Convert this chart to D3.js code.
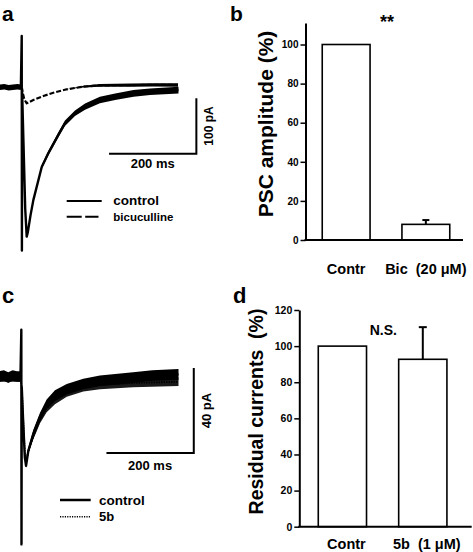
<!DOCTYPE html>
<html><head><meta charset="utf-8">
<script src="https://cdn.jsdelivr.net/npm/d3@7/dist/d3.min.js"></script>
<style>
html,body{margin:0;padding:0;background:#fff;}
svg text{font-family:"Liberation Sans",Arial,Helvetica,sans-serif;font-weight:bold;fill:#000;}
</style></head>
<body>
<script>
// ---------- DATA ----------
// Panel a: traces [time ms, current pA, noise half-width pA]
const aControl = [[-50,0,5],[-40,1,5],[-30,-1,5],[-20,0,5],[-10,1,5],[-2,0,5],[0,93,0],[0.4,-295,0],[1,-10,0.5],[4,-100,1],[8,-220,1],[11.4,-270,1],[14,-262,1],[20,-232,1.5],[26.6,-204,2.5],[45.8,-144,3.5],[61,-119,4],[86,-83,4.5],[99,-65,5],[122,-47,5],[145,-35,5.5],[179,-23,6],[214,-17,6],[256,-11,6],[294,-8,6],[359,-5,6]];
const aBicuculline = [[-50,0,0],[-2,0,0],[1,-3,0],[3,-12,0],[6,-22,0],[11.5,-29,0],[26.6,-23,0],[49.5,-15.7,0],[72.4,-9.8,0],[103,-3.6,0],[141,1.1,1.5],[179,3.5,2.5],[250,4,3],[300,4.5,3],[358,4.2,3]];
const aScaleMs = [200, 400];
const aScalePA = [-120, -20];
const aLegend = ["control", "bicuculline"];

// Panel c
const cControl = [[-50,0,2.5],[-40,0.5,2.5],[-30,-0.5,2.5],[-20,0.5,2.5],[-10,0,2.5],[-2,0,2.5],[0,22,0],[0.4,-79,0],[1,-5,0.5],[4,-20,0.8],[8,-38,1],[10.8,-42,1],[16,-35,1.5],[27.5,-27,2],[42.8,-19,2],[58,-13,2.2],[77,-9,2.5],[104,-6,2.5],[142,-3.5,2.5],[180,-2,2.5],[256,-0.5,2.5],[300,0.5,2.5],[360,1,2.5]];
const c5b = [[-50,-1,1.5],[-2,-1,1.5],[1,-5,0.5],[4,-20,0.5],[8,-36,0.8],[11,-40,1],[16,-35,1],[27.5,-28,1.5],[42.8,-20.5,1.5],[58,-15,1.8],[77,-11,2],[104,-7.5,2],[142,-5,2],[180,-4,2],[256,-3,2],[360,-2.5,2]];
const cScaleMs = [195, 395];
const cScalePA = [-36, 4];
const cLegend = ["control", "5b"];

// Panel b
const bCategories = ["Contr", "Bic  (20 \u03bcM)"];
const bValues = [100, 8];
const bErrors = [null, 10.2];
const bTicks = [0, 20, 40, 60, 80, 100];

// Panel d
const dCategories = ["Contr", "5b  (1 \u03bcM)"];
const dValues = [100, 92.7];
const dErrors = [null, 110.5];
const dTicks = [0, 20, 40, 60, 80, 100, 120];

// ---------- DRAW ----------
const svg = d3.select("body").append("svg").attr("width", 473).attr("height", 552);
svg.append("rect").attr("width", 473).attr("height", 552).attr("fill", "#fff");

function trace(g, data, x, y, o) {
  g.append("path").datum(data)
    .attr("d", d3.area().x(d => x(d[0])).y0(d => y(d[1] - d[2])).y1(d => y(d[1] + d[2])))
    .attr("fill", o.bandFill || "#000").attr("fill-opacity", o.bandOpacity || 1);
  g.append("path").datum(data)
    .attr("d", d3.line().x(d => x(d[0])).y(d => y(d[1])))
    .attr("fill", "none").attr("stroke", "#000").attr("stroke-width", o.w)
    .attr("stroke-dasharray", o.dash || null).attr("stroke-linejoin", "round");
}

function scaleBar(g, x, y, ms, pa, msLabel, paLabel, paFont, msLabelY) {
  g.append("path")
    .attr("d", `M${x(ms[0])},${y(pa[0])}H${x(ms[1])}V${y(pa[1])}`)
    .attr("fill", "none").attr("stroke", "#000").attr("stroke-width", 2);
  g.append("text").attr("x", (x(ms[0]) + x(ms[1])) / 2).attr("y", msLabelY)
    .attr("text-anchor", "middle").attr("font-size", 13).text(msLabel);
  const cy = (y(pa[0]) + y(pa[1])) / 2;
  const tx = x(ms[1]) + 17;
  g.append("text").attr("transform", `translate(${tx},${cy}) rotate(-90)`)
    .attr("text-anchor", "middle").attr("font-size", paFont).text(paLabel);
}

// Panel a
{
  const g = svg.append("g");
  const x = d3.scaleLinear().domain([-50, 360]).range([-0.1, 178.9]);
  const y = d3.scaleLinear().domain([-300, 100]).range([253.2, 32]);
  trace(g, aControl, x, y, { w: 2.4 });
  trace(g, aBicuculline, x, y, { w: 2.2, dash: "5,2" });
  scaleBar(g, x, y, aScaleMs, aScalePA, "200 ms", "100 pA", 12, 168.3);
  g.append("line").attr("x1", 66.7).attr("x2", 101.7).attr("y1", 201).attr("y2", 201).attr("stroke", "#000").attr("stroke-width", 2);
  g.append("line").attr("x1", 66.7).attr("x2", 98.5).attr("y1", 216.7).attr("y2", 216.7).attr("stroke", "#000").attr("stroke-width", 2).attr("stroke-dasharray", "15,3.5");
  g.append("text").attr("x", 113.3).attr("y", 205).attr("font-size", 13.5).text(aLegend[0]);
  g.append("text").attr("x", 113.3).attr("y", 220.5).attr("font-size", 11.5).text(aLegend[1]);
}

// Panel c
{
  const g = svg.append("g");
  const x = d3.scaleLinear().domain([-50, 360]).range([-0.5, 178.5]);
  const y = d3.scaleLinear().domain([-80, 25]).range([546.5, 323.4]);
  trace(g, c5b, x, y, { w: 1.8, dash: "1.5,1", bandOpacity: 0.9 });
  trace(g, cControl, x, y, { w: 2.4 });
  scaleBar(g, x, y, cScaleMs, cScalePA, "200 ms", "40 pA", 13, 470);
  g.append("line").attr("x1", 60).attr("x2", 90.7).attr("y1", 500).attr("y2", 500).attr("stroke", "#000").attr("stroke-width", 2.5);
  g.append("line").attr("x1", 60).attr("x2", 90).attr("y1", 516.7).attr("y2", 516.7).attr("stroke", "#000").attr("stroke-width", 1.5).attr("stroke-dasharray", "1.2,1.2");
  g.append("text").attr("x", 99).attr("y", 505).attr("font-size", 13.5).text(cLegend[0]);
  g.append("text").attr("x", 99).attr("y", 520.7).attr("font-size", 13).text(cLegend[1]);
}

function barPanel(o) {
  const g = svg.append("g");
  const x = d3.scaleBand().domain(o.cats).range(o.xr).paddingInner(0.4).paddingOuter(o.po);
  const y = d3.scaleLinear().domain(o.yd).range(o.yr);
  g.selectAll("rect.bar").data(o.vals).join("rect").attr("class", "bar")
    .attr("x", (d, i) => x(o.cats[i])).attr("width", x.bandwidth())
    .attr("y", d => y(d)).attr("height", d => y(0) - y(d))
    .attr("fill", "#fff").attr("stroke", "#000").attr("stroke-width", 1.6);
  o.errs.forEach((e, i) => {
    if (e == null) return;
    const cx = x(o.cats[i]) + x.bandwidth() / 2;
    g.append("line").attr("x1", cx).attr("x2", cx).attr("y1", y(o.vals[i])).attr("y2", y(e)).attr("stroke", "#000").attr("stroke-width", 2);
    g.append("line").attr("x1", cx - o.cap / 2).attr("x2", cx + o.cap / 2).attr("y1", y(e)).attr("y2", y(e)).attr("stroke", "#000").attr("stroke-width", 2);
  });
  const ax = g.append("g").attr("transform", `translate(${o.xr[0]},0)`)
    .call(d3.axisLeft(y).tickValues(o.ticks).tickSize(5).tickSizeOuter(0).tickPadding(2));
  ax.select(".domain").attr("stroke-width", 2);
  ax.selectAll(".tick line").attr("stroke-width", 1.5);
  ax.selectAll(".tick text").attr("font-size", o.tickFont).attr("font-family", null);
  g.append("line").attr("x1", o.xr[0] - 1).attr("x2", o.xEnd).attr("y1", y(0)).attr("y2", y(0)).attr("stroke", "#000").attr("stroke-width", 2);
  o.cats.forEach(c => {
    g.append("text").attr("x", x(c) + x.bandwidth() / 2 + o.labDx).attr("y", o.labY)
      .attr("text-anchor", "middle").attr("font-size", o.labFont).style("white-space", "pre").text(c);
  });
  g.append("text").attr("transform", `translate(${o.titleX},${o.titleY}) rotate(-90)`)
    .attr("text-anchor", "middle").attr("font-size", o.titleFont).style("white-space", "pre").text(o.title);
  return { g, x, y };
}

// Panel b
{
  const p = barPanel({ cats: bCategories, vals: bValues, errs: bErrors, ticks: bTicks,
    xr: [305.5, 466.5], po: 0.21, yd: [0, 111], yr: [240, 23], xEnd: 463, cap: 7,
    tickFont: 10, labY: 274, labFont: 14.5, labDx: 0,
    title: "PSC amplitude (%)", titleX: 273, titleY: 124, titleFont: 21 });
  p.g.append("text").attr("x", 387).attr("y", 28).attr("text-anchor", "middle").attr("font-size", 18).text("**");
}

// Panel d
{
  const p = barPanel({ cats: dCategories, vals: dValues, errs: dErrors, ticks: dTicks,
    xr: [299.3, 465.9], po: 0.236, yd: [0, 120], yr: [526.7, 310], xEnd: 471.7, cap: 8,
    tickFont: 10.5, labY: 549, labFont: 14.5, labDx: 4,
    title: "Residual currents  (%)", titleX: 263, titleY: 411.5, titleFont: 19.5 });
  p.g.append("text").attr("x", 383.3).attr("y", 334.5).attr("text-anchor", "middle").attr("font-size", 14).text("N.S.");
}

// panel letters
[["a", 2, 20.5, 21], ["b", 230, 20.5, 21], ["c", 2, 303, 22], ["d", 233, 303, 22]].forEach(([t, x, y, fs]) => {
  svg.append("text").attr("x", x).attr("y", y).attr("font-size", fs).text(t);
});
</script>
</body></html>
